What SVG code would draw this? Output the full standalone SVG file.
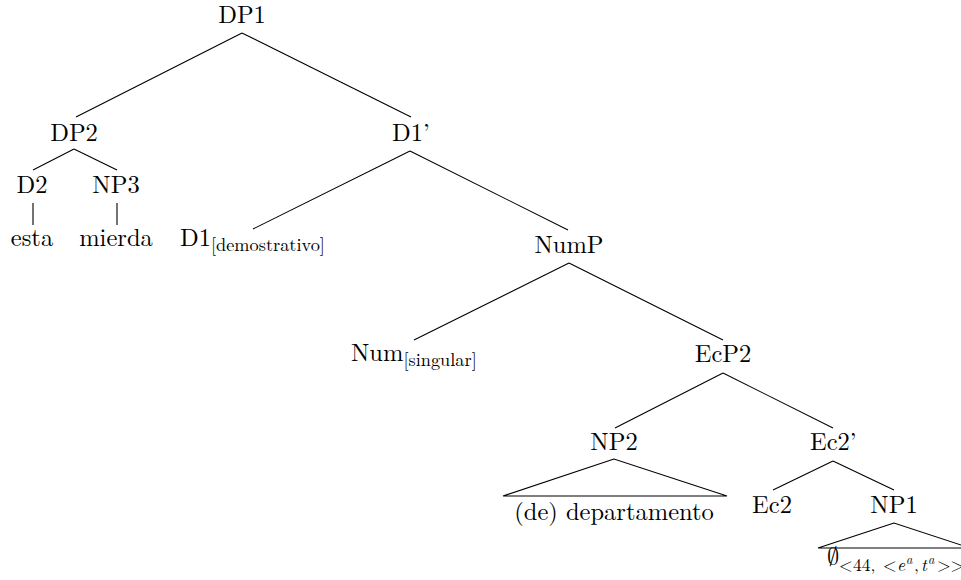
<svg xmlns="http://www.w3.org/2000/svg" width="961" height="580" viewBox="0 0 961 580" font-family="Latin Modern Roman, Liberation Serif, serif">
<style>
text{font-size:24.5px;fill:#000}
.c{text-anchor:middle}
.sub{font-size:18.3px}
.s2{font-size:17.5px}
.sup{font-size:12.5px;font-style:italic}
.it{font-style:italic}
line,polygon{stroke:#000;stroke-width:1.1;fill:none}
</style>
<rect width="961" height="580" fill="#fff"/>
<g id="connectors">
<line x1="242" y1="33" x2="76" y2="117"/>
<line x1="242" y1="33" x2="411" y2="117"/>
<line x1="74" y1="149" x2="33" y2="170"/>
<line x1="74" y1="149" x2="117" y2="170"/>
<line x1="33" y1="203" x2="33" y2="225"/>
<line x1="117" y1="203" x2="117" y2="225"/>
<line x1="410" y1="151" x2="253" y2="229"/>
<line x1="410" y1="151" x2="568" y2="230"/>
<line x1="569" y1="263" x2="414" y2="340"/>
<line x1="569" y1="263" x2="723" y2="340"/>
<line x1="723" y1="373" x2="615" y2="428"/>
<line x1="723" y1="373" x2="833" y2="428"/>
<line x1="833" y1="461" x2="773" y2="490"/>
<line x1="833" y1="461" x2="894" y2="490"/>
</g>
<g id="DP1"><text class="c" x="242" y="23">DP1</text></g>
<g id="DP2"><text class="c" x="74" y="141">DP2</text></g>
<g id="D1bar"><text x="392" y="141">D1’</text></g>
<g id="D2"><text class="c" x="32" y="193">D2</text></g>
<g id="NP3"><text class="c" x="116" y="193">NP3</text></g>
<g id="esta"><text class="c" x="32" y="246">esta</text></g>
<g id="mierda"><text class="c" x="116" y="246">mierda</text></g>
<g id="D1"><text x="180" y="246">D1<tspan class="sub" y="251">[demostrativo]</tspan></text></g>
<g id="NumP"><text class="c" x="569" y="253">NumP</text></g>
<g id="Num"><text x="351" y="361">Num<tspan class="sub" y="366">[singular]</tspan></text></g>
<g id="EcP2"><text class="c" x="723" y="362">EcP2</text></g>
<g id="NP2"><text class="c" x="614" y="450">NP2</text>
<polygon points="614,459 503,496 727,496"/>
<text class="c" x="614" y="520">(de) departamento</text></g>
<g id="Ec2bar"><text x="810" y="450">Ec2’</text></g>
<g id="Ec2"><text class="c" x="772" y="513">Ec2</text></g>
<g id="NP1"><text class="c" x="894" y="513">NP1</text>
<polygon points="894,523 818,548 970,548"/>
<text x="827" y="565" font-size="23" font-family="Latin Modern Math, DejaVu Serif, serif">∅</text>
<text class="s2" y="571"><tspan x="839" font-family="Latin Modern Math, serif">&lt;</tspan><tspan x="853">44,</tspan><tspan x="883" font-family="Latin Modern Math, serif">&lt;</tspan><tspan class="it" x="897">e</tspan><tspan class="sup" x="906" y="564">a</tspan><tspan x="914" y="571">,</tspan><tspan class="it" x="921">t</tspan><tspan class="sup" x="928" y="564">a</tspan><tspan x="937" y="571" font-family="Latin Modern Math, serif">&gt;&gt;</tspan></text></g>
</svg>
